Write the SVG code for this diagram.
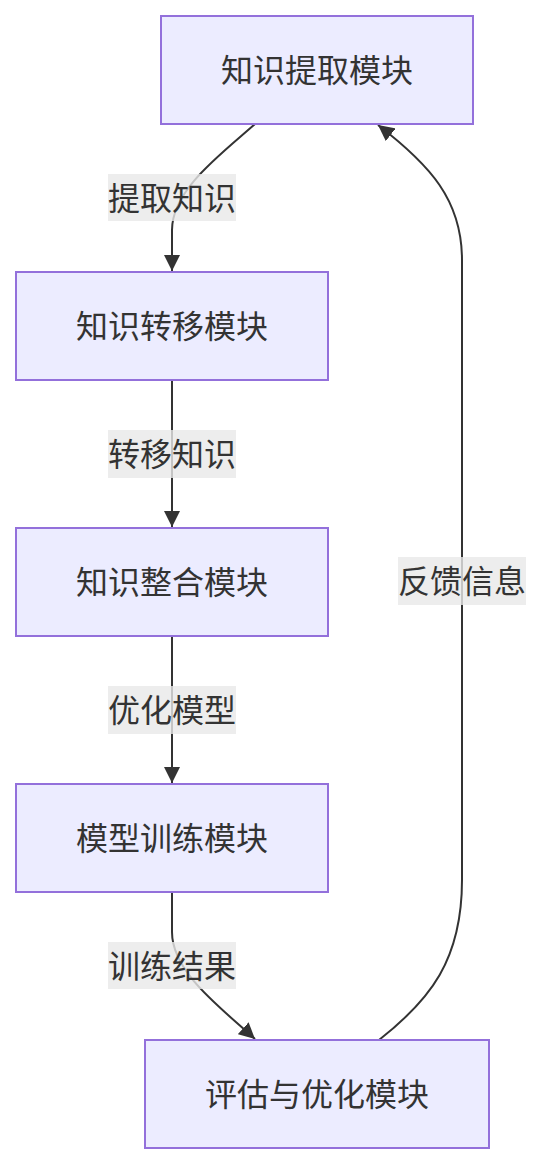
<svg xmlns="http://www.w3.org/2000/svg" width="542" height="1164" viewBox="0 0 542 1164">
<style>
.node rect{fill:#ECECFF;stroke:#9370DB;stroke-width:2}
.node text,.lbl text{font-family:"Noto Sans CJK SC","Noto Sans",sans-serif;font-size:32px;fill:#333;text-anchor:middle;dominant-baseline:central}
.edge{fill:none;stroke:#333;stroke-width:2}
.lbl rect{fill:rgba(232,232,232,0.8)}
</style>
<defs>
<marker id="arr" viewBox="0 0 10 10" refX="10" refY="5" markerUnits="userSpaceOnUse" markerWidth="16" markerHeight="16" orient="auto">
<path d="M0,0 L10,5 L0,10 z" fill="#333"/>
</marker>
</defs>
<rect width="542" height="1164" fill="#fff"/>
<g id="connectors">
<path class="edge" d="M255,124 C220,155 172,190 172,230 L172,271" marker-end="url(#arr)"/>
<path class="edge" d="M172,380 L172,527" marker-end="url(#arr)"/>
<path class="edge" d="M172,636 L172,783" marker-end="url(#arr)"/>
<path class="edge" d="M172,892 L172,932 C172,972 220,1007 255,1039" marker-end="url(#arr)"/>
<path class="edge" d="M379,1040 C430,1000 462,960 462,880 L462,260 C462,200 430,165 378,125" marker-end="url(#arr)"/>
</g>
<g id="edge-labels">
<g class="lbl"><rect x="108" y="174" width="128" height="47"/><text x="172" y="195.5">提取知识</text></g>
<g class="lbl"><rect x="108" y="430" width="128" height="48"/><text x="172" y="452">转移知识</text></g>
<g class="lbl"><rect x="108" y="686" width="128" height="48"/><text x="172" y="708">优化模型</text></g>
<g class="lbl"><rect x="108" y="942" width="128" height="47"/><text x="172" y="963.5">训练结果</text></g>
<g class="lbl"><rect x="398" y="557" width="128" height="48"/><text x="462" y="579">反馈信息</text></g>
</g>
<g id="A" class="node"><rect x="161" y="16" width="312" height="108"/><text x="317" y="68">知识提取模块</text></g>
<g id="B" class="node"><rect x="16" y="272" width="312" height="108"/><text x="172" y="324">知识转移模块</text></g>
<g id="C" class="node"><rect x="16" y="528" width="312" height="108"/><text x="172" y="580">知识整合模块</text></g>
<g id="D" class="node"><rect x="16" y="784" width="312" height="108"/><text x="172" y="836">模型训练模块</text></g>
<g id="E" class="node"><rect x="145" y="1040" width="344" height="108"/><text x="317" y="1092">评估与优化模块</text></g>
</svg>
